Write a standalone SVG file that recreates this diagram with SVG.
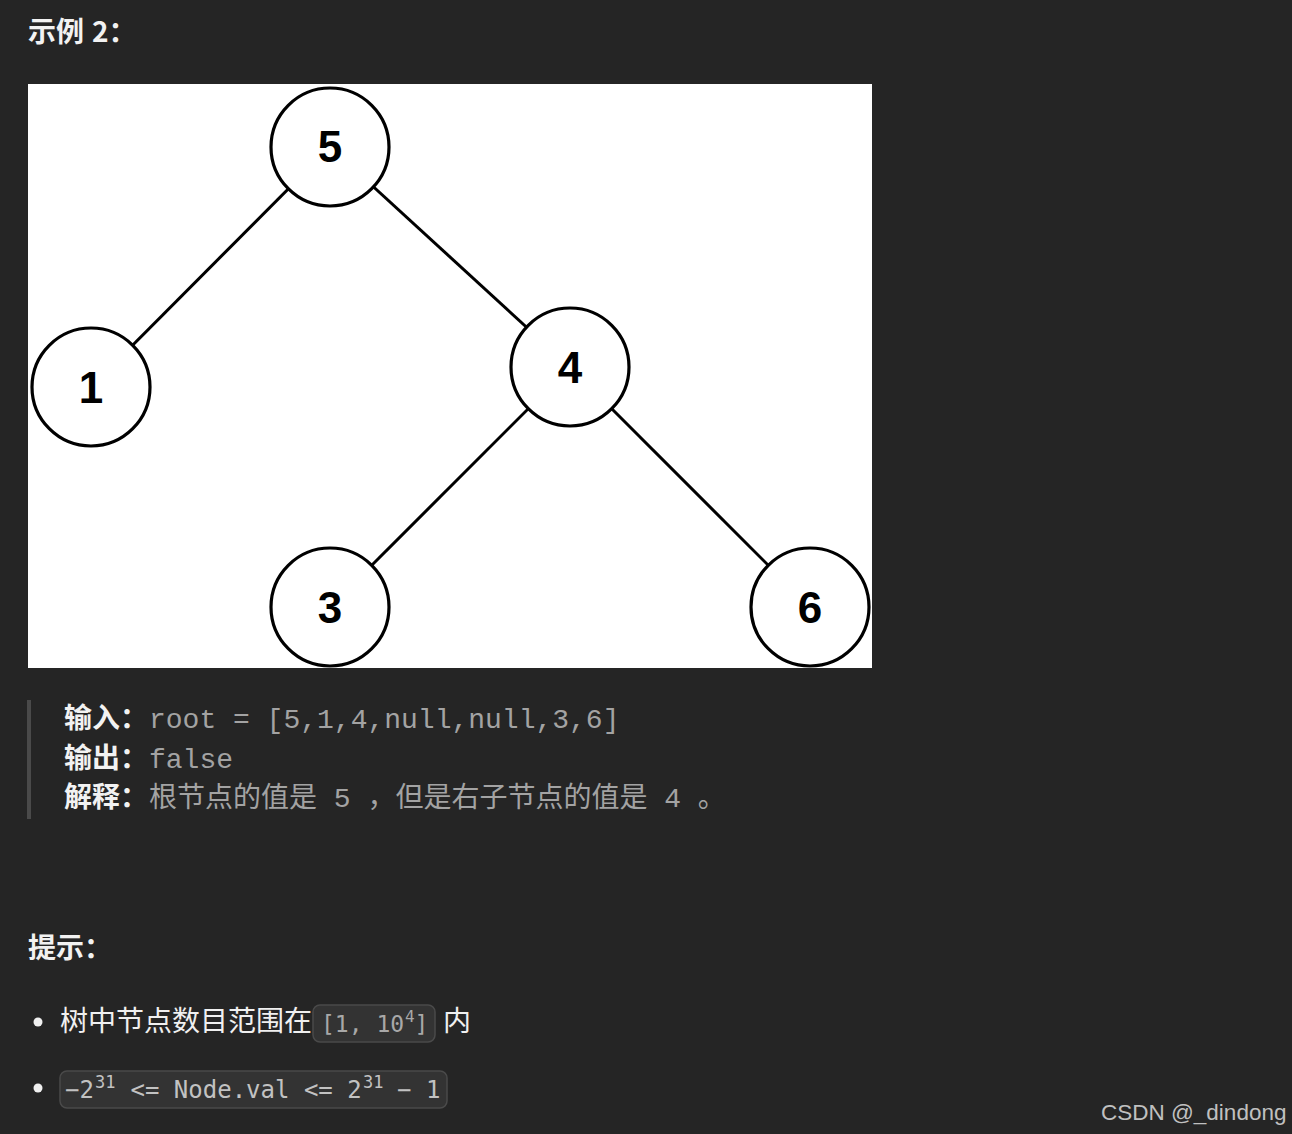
<svg xmlns="http://www.w3.org/2000/svg" width="1292" height="1134" viewBox="0 0 1292 1134">
<style>
.h{font-family:"Noto Sans CJK SC","Liberation Sans",sans-serif;font-weight:bold;font-size:28px;fill:#f2f2f2}
.lbl{font-family:"Noto Sans CJK SC","Liberation Sans",sans-serif;font-weight:bold;font-size:28px;fill:#f2f2f2}
.body{font-family:"Liberation Mono","Noto Sans CJK SC",monospace;font-size:28px;fill:#a3a3a3}
.cjk{font-family:"Noto Sans CJK SC","Liberation Sans",sans-serif;font-size:28px;fill:#f0f0f0}
.code{font-family:"DejaVu Sans Mono","Liberation Mono",monospace}
.c1{fill:#a8a8a8}
.c2{fill:#c2c2c2}
.box{fill:#333333;stroke:#4a4a4a;stroke-width:1.5}
.node circle{fill:#ffffff;stroke:#000000;stroke-width:3.2}
.node text{font-family:"Liberation Sans",Arial,sans-serif;font-weight:bold;font-size:44px;fill:#000000;text-anchor:middle}
.edges line{stroke:#000000;stroke-width:3}
</style>
<rect x="0" y="0" width="1292" height="1134" fill="#252525"/>
<text class="h" x="28" y="42">示例<tspan x="92">2：</tspan></text>
<svg x="28" y="84" width="844" height="584" viewBox="28 84 844 584">
<rect x="28" y="84" width="844" height="584" fill="#ffffff"/>
<g id="connectors" class="edges">
<line x1="330" y1="147" x2="91" y2="387"/>
<line x1="330" y1="147" x2="570" y2="367"/>
<line x1="570" y1="367" x2="330" y2="607"/>
<line x1="570" y1="367" x2="810" y2="607"/>
</g>
<g id="node-5" class="node"><circle cx="330" cy="147" r="59"/><text x="330" y="162">5</text></g>
<g id="node-1" class="node"><circle cx="91" cy="387" r="59"/><text x="91" y="403">1</text></g>
<g id="node-4" class="node"><circle cx="570" cy="367" r="59"/><text x="570" y="383">4</text></g>
<g id="node-3" class="node"><circle cx="330" cy="607" r="59"/><text x="330" y="623">3</text></g>
<g id="node-6" class="node"><circle cx="810" cy="607" r="59"/><text x="810" y="623">6</text></g>
</svg>
<rect x="27" y="700" width="4" height="119" fill="#4a4a4a"/>
<text class="lbl" x="64" y="728">输入：</text>
<text class="body" x="149" y="728">root = [5,1,4,null,null,3,6]</text>
<text class="lbl" x="64" y="768">输出：</text>
<text class="body" x="149" y="768">false</text>
<text class="lbl" x="64" y="807">解释：</text>
<text class="body" x="149" y="807">根节点的值是 5 ，但是右子节点的值是 4 。</text>
<text class="h" x="28" y="958">提示：</text>
<circle cx="38" cy="1022" r="4.5" fill="#f0f0f0"/>
<text class="cjk" x="60" y="1031">树中节点数目范围在</text>
<rect class="box" x="313" y="1005" width="122" height="37" rx="7"/>
<text class="code c1" font-size="23" x="321" y="1032">[1, 10</text>
<text class="code c1" font-size="16" x="405" y="1022">4</text>
<text class="code c1" font-size="23" x="414.6" y="1032">]</text>
<text class="cjk" x="443" y="1031">内</text>
<circle cx="38" cy="1088" r="4.5" fill="#f0f0f0"/>
<rect class="box" x="60" y="1071" width="387" height="37" rx="7"/>
<text class="code c2" font-size="24" x="65" y="1098">−2</text>
<text class="code c2" font-size="17" x="95" y="1088">31</text>
<text class="code c2" font-size="24" x="130.5" y="1098">&lt;= Node.val &lt;= 2</text>
<text class="code c2" font-size="17" x="363" y="1088">31</text>
<text class="code c2" font-size="24" x="397" y="1098">− 1</text>
<text x="1101" y="1120" font-family="Liberation Sans, Arial, sans-serif" font-size="22.5" fill="#c0c0c0">CSDN @_dindong</text>
</svg>
